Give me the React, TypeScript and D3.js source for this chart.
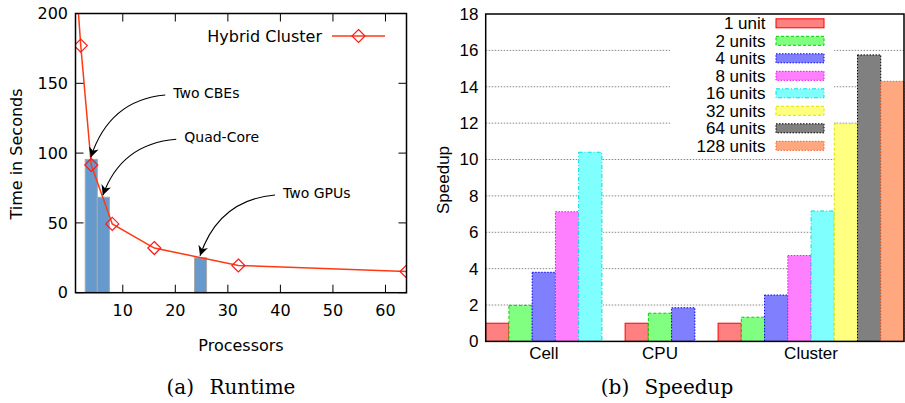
import React from "react";
import * as d3 from "d3";

// (a) Runtime
const procCounts = [1, 2, 4, 8, 16, 32, 64];
const hybridTime = [230, 177, 91.5, 49.3, 32, 19.5, 15.2];
const deviceProc = [4, 6.3, 24.8];
const deviceTime = [95.5, 68.4, 25];
const deviceLabels = ["Two CBEs", "Quad-Core", "Two GPUs"];
const labelAtX = [19.6, 21.7, 40.5];
const labelAtY = [143, 111.4, 71.4];
const runtimeXTicks = [10, 20, 30, 40, 50, 60];
const runtimeYTicks = [0, 50, 100, 150, 200];

// (b) Speedup
const platforms = ["Cell", "CPU", "Cluster"];
const cellSpeedup = [1, 1.98, 3.8, 7.13, 10.4];
const cpuSpeedup = [1, 1.55, 1.85];
const clusterSpeedup = [1, 1.33, 2.55, 4.72, 7.17, 11.97, 15.75, 14.3];
const unitLabels = ["1 unit", "2 units", "4 units", "8 units", "16 units", "32 units", "64 units", "128 units"];
const speedupTicks = [0, 2, 4, 6, 8, 10, 12, 14, 16, 18];

const unitFill = ["#ff8080", "#80ff80", "#8080ff", "#ff80ff", "#80ffff", "#ffff80", "#808080", "#ffa77f"];
const unitStroke = ["#ff0000", "#00d000", "#0000ff", "#ff00ff", "#00e0e0", "#e0e000", "#000000", "#ff5a20"];
const unitDash = ["none", "3,2", "1.5,1.5", "1.5,1.5", "4,2,1,2", "3,2", "1.5,1.5", "1.5,1.5"];

const sans = "'DejaVu Sans', Verdana, sans-serif";
const helv = "'Liberation Sans', Arial, Helvetica, sans-serif";
const serif = "'DejaVu Serif', 'Liberation Serif', serif";

const Runtime = () => {
  const x = d3.scaleLinear().domain([1, 64]).range([75.5, 406.5]);
  const y = d3.scaleLinear().domain([0, 200]).range([292.7, 13.5]);
  const [x0, x1] = x.range();
  const [y0, y1] = y.range();
  const pts = procCounts.map((p, i) => [p, hybridTime[i]] as [number, number]);
  const lineGen = d3.line<[number, number]>().x(d => x(d[0])).y(d => y(d[1]));
  const barW = x(2.3) - x(0);
  const diamond = (cx: number, cy: number, r = 6.5) =>
    `M${cx},${cy - r}L${cx + r},${cy}L${cx},${cy + r}L${cx - r},${cy}Z`;

  return (
    <g>
      <defs>
        <clipPath id="rtclip">
          <rect x={x0} y={y1} width={x1 - x0} height={y0 - y1} />
        </clipPath>
        <marker id="ahead" viewBox="0 0 10 10" refX="10" refY="5" markerWidth="10" markerHeight="10"
          markerUnits="userSpaceOnUse" orient="auto">
          <path d="M0,0L10,5L0,10L3,5Z" fill="#000" />
        </marker>
      </defs>
      {deviceProc.map((p, i) => (
        <rect key={i} x={x(p) - barW / 2} y={y(deviceTime[i])} width={barW} height={y0 - y(deviceTime[i])}
          fill="#6699cc" stroke="#a8a8a8" strokeWidth={1} />
      ))}
      <g clipPath="url(#rtclip)">
        <path d={lineGen(pts) || ""} fill="none" stroke="#ff3a12" strokeWidth={1.5} />
        {pts.map((d, i) => (
          <path key={i} d={diamond(x(d[0]), y(d[1]))} fill="none" stroke="#ff1a1a" strokeWidth={1.2} />
        ))}
      </g>
      {/* arrows */}
      {deviceLabels.map((lab, i) => {
        const tx = x(labelAtX[i]);
        const ty = y(labelAtY[i]);
        const sx = tx - 8, sy = ty + 2;
        const ex = x(deviceProc[i]) - 0.5, ey = y(deviceTime[i]) - 2;
        const cx = ex + 0.25 * (sx - ex), cy = sy + 0.08 * (ey - sy);
        return (
          <g key={lab}>
            <path d={`M${sx},${sy}Q${cx},${cy} ${ex},${ey}`} fill="none" stroke="#000" strokeWidth={1.1}
              markerEnd="url(#ahead)" />
            <text x={tx} y={ty} dy="0.35em" fontFamily={sans} fontSize={14}>{lab}</text>
          </g>
        );
      })}
      {/* frame and ticks */}
      <rect x={x0} y={y1} width={x1 - x0} height={y0 - y1} fill="none" stroke="#000" strokeWidth={1.5} />
      {runtimeXTicks.map(t => (
        <g key={t}>
          <line x1={x(t)} x2={x(t)} y1={y0} y2={y0 - 8} stroke="#000" />
          <line x1={x(t)} x2={x(t)} y1={y1} y2={y1 + 8} stroke="#000" />
          <text x={x(t)} y={310} dy="0.35em" textAnchor="middle" fontFamily={sans} fontSize={16}>{t}</text>
        </g>
      ))}
      {runtimeYTicks.map(t => (
        <g key={t}>
          <line x1={x0} x2={x0 + 8} y1={y(t)} y2={y(t)} stroke="#000" />
          <line x1={x1} x2={x1 - 8} y1={y(t)} y2={y(t)} stroke="#000" />
          <text x={68} y={y(t)} dy="0.35em" textAnchor="end" fontFamily={sans} fontSize={16}>{t}</text>
        </g>
      ))}
      {/* legend */}
      <text x={322} y={36} dy="0.35em" textAnchor="end" fontFamily={sans} fontSize={16}>Hybrid Cluster</text>
      <line x1={332} x2={385} y1={36} y2={36} stroke="#ff3a12" strokeWidth={1.5} />
      <path d={diamond(358.5, 36)} fill="none" stroke="#ff1a1a" strokeWidth={1.2} />
      <text x={241} y={345} dy="0.35em" textAnchor="middle" fontFamily={sans} fontSize={16}>Processors</text>
      <text transform="translate(16,154) rotate(-90)" dy="0.35em" textAnchor="middle" fontFamily={sans}
        fontSize={16}>Time in Seconds</text>
      <text x={231} y={387} dy="0.35em" textAnchor="middle" fontFamily={serif} fontSize={20}
        style={{ wordSpacing: "9px" }}>(a) Runtime</text>
    </g>
  );
};

const Speedup = () => {
  const groups = [cellSpeedup, cpuSpeedup, clusterSpeedup];
  const starts: number[] = [];
  let acc = 0;
  groups.forEach(g => { starts.push(acc); acc += g.length + 1; });
  const slots = acc - 1;
  const x = d3.scaleLinear().domain([0, slots]).range([485.7, 904]);
  const y = d3.scaleLinear().domain([0, 18]).range([341.4, 14]);
  const [x0, x1] = x.range();
  const [y0, y1] = y.range();
  const legX = 776, legW = 48, legY0 = 23.3, legStep = 17.5;

  return (
    <g>
      {speedupTicks.slice(1, -1).map(t => (
        <line key={t} x1={x0} x2={x1} y1={y(t)} y2={y(t)} stroke="#888" strokeWidth={1} strokeDasharray="1.5,1.5" />
      ))}
      <rect x={670} y={y1 + 1} width={164} height={142} fill="#fff" />
      {groups.map((g, gi) => g.map((v, i) => (
        <rect key={`${gi}-${i}`} x={x(starts[gi] + i)} y={y(v)} width={x(1) - x(0)} height={y0 - y(v)}
          fill={unitFill[i]} stroke={unitStroke[i]} strokeWidth={1} strokeDasharray={unitDash[i]} />
      )))}
      {platforms.map((p, gi) => (
        <text key={p} x={x(starts[gi] + groups[gi].length / 2)} y={353} dy="0.35em" textAnchor="middle"
          fontFamily={helv} fontSize={17}>{p}</text>
      ))}
      {unitLabels.map((lab, i) => (
        <g key={lab}>
          <text x={765.5} y={legY0 + i * legStep} dy="0.35em" textAnchor="end" fontFamily={helv} fontSize={17}>{lab}</text>
          <rect x={legX} y={legY0 + i * legStep - 4.5} width={legW} height={9} fill={unitFill[i]}
            stroke={unitStroke[i]} strokeWidth={1} strokeDasharray={unitDash[i]} />
        </g>
      ))}
      <rect x={x0} y={y1} width={x1 - x0} height={y0 - y1} fill="none" stroke="#000" strokeWidth={1.5} />
      {speedupTicks.map(t => (
        <text key={t} x={478.5} y={y(t)} dy="0.35em" textAnchor="end" fontFamily={helv} fontSize={17}>{t}</text>
      ))}
      <text transform="translate(443,180) rotate(-90)" dy="0.35em" textAnchor="middle" fontFamily={helv}
        fontSize={17}>Speedup</text>
      <text x={667} y={387} dy="0.35em" textAnchor="middle" fontFamily={serif} fontSize={20}
        style={{ wordSpacing: "9px" }}>(b) Speedup</text>
    </g>
  );
};

export default function App() {
  return (
    <svg width={905} height={403} style={{ position: "absolute", left: 0, top: 0, background: "#fff" }}>
      <rect width={905} height={403} fill="#fff" />
      <Runtime />
      <Speedup />
    </svg>
  );
}
